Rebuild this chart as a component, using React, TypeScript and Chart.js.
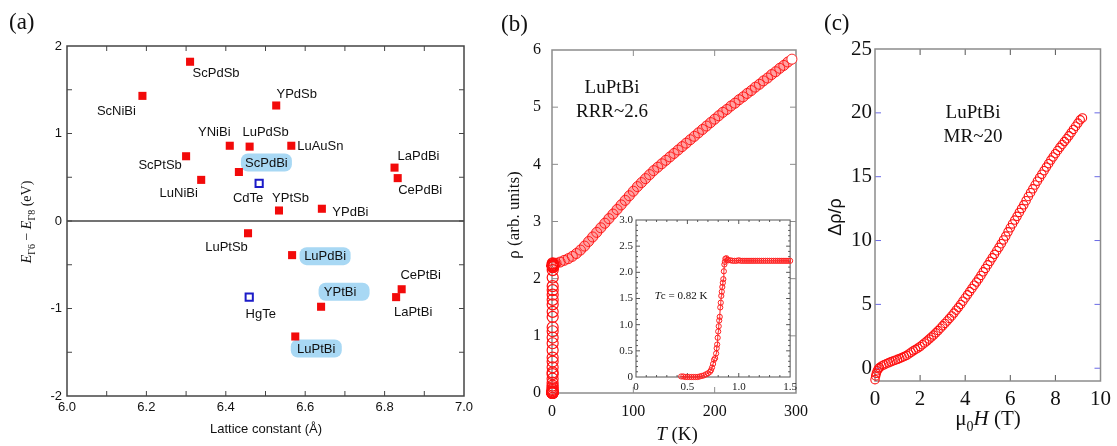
import React, { useEffect, useRef } from 'react';
import { Chart, registerables } from 'chart.js';
Chart.register(...registerables);

const SERIF = '"Liberation Serif", "Times New Roman", serif';
const SANS = '"Liberation Sans", Arial, Helvetica, sans-serif';

// ---------------- Panel (a) data ----------------
const heuslerNames = ['ScPdSb', 'ScNiBi', 'YPdSb', 'YNiBi', 'LuPdSb', 'LuAuSn', 'ScPtSb', 'ScPdBi', 'LuNiBi', 'YPtSb', 'YPdBi', 'LaPdBi', 'CePdBi', 'LuPtSb', 'LuPdBi', 'YPtBi', 'LaPtBi', 'CePtBi', 'LuPtBi'];
const heuslerLattice = [6.31, 6.19, 6.527, 6.41, 6.46, 6.565, 6.30, 6.433, 6.338, 6.534, 6.642, 6.825, 6.833, 6.456, 6.567, 6.64, 6.829, 6.843, 6.575];
const heuslerGap = [1.82, 1.43, 1.32, 0.86, 0.85, 0.86, 0.74, 0.56, 0.47, 0.12, 0.14, 0.61, 0.49, -0.14, -0.39, -0.98, -0.87, -0.78, -1.32];
const binaryNames = ['CdTe', 'HgTe'];
const binaryLattice = [6.484, 6.459];
const binaryGap = [0.43, -0.87];
const highlighted = ['ScPdBi', 'LuPdBi', 'YPtBi', 'LuPtBi'];
const aXTickLabels = [6.0, 6.2, 6.4, 6.6, 6.8, 7.0];
const aYTickLabels = [-2, -1, 0, 1, 2];
const aXTickMarks = [6.1, 6.2, 6.3, 6.4, 6.5, 6.6, 6.7, 6.8, 6.9];
const aYTickMarks = [-1.5, -1, -0.5, 0, 0.5, 1, 1.5];

// label placement (pixel offsets of label centre from marker) – styling only
const labelOffsets: Record<string, [number, number]> = {
  ScPdSb: [26, 11], ScNiBi: [-26, 15], YPdSb: [20.5, -12], YNiBi: [-15.5, -14], LuPdSb: [16, -15],
  LuAuSn: [29, 0], ScPtSb: [-26, 9], ScPdBi: [27.5, -9.5], LuNiBi: [-22.5, 13], YPtSb: [11.5, -13],
  YPdBi: [28.5, 3], LaPdBi: [24, -12], CePdBi: [22.5, 12], LuPtSb: [-21.5, 14], LuPdBi: [33, 1],
  YPtBi: [19, -15], LaPtBi: [17, 15], CePtBi: [19, -14], LuPtBi: [21, 12], CdTe: [-11, 15], HgTe: [11.5, 17],
};
const boxShift: Record<string, number> = { ScPdBi: 0, LuPdBi: 0, YPtBi: 4, LuPtBi: 0 };

// ---------------- Panel (b) data ----------------
const rhoT = [1, 3, 5, 10, 15, 20, 25, 30, 35, 40, 45, 50, 55, 60, 65, 70, 75, 80, 85, 90, 95, 100, 105, 110, 115, 120, 125, 130, 135, 140, 145, 150, 155, 160, 165, 170, 175, 180, 185, 190, 195, 200, 205, 210, 215, 220, 225, 230, 235, 240, 245, 250, 255, 260, 265, 270, 275, 280, 285, 290, 295];
const rhoValues = [2.25, 2.26, 2.27, 2.29, 2.32, 2.35, 2.39, 2.44, 2.50, 2.57, 2.65, 2.73, 2.81, 2.89, 2.97, 3.05, 3.13, 3.21, 3.29, 3.37, 3.45, 3.53, 3.61, 3.68, 3.75, 3.82, 3.89, 3.95, 4.01, 4.07, 4.13, 4.19, 4.25, 4.31, 4.37, 4.43, 4.49, 4.55, 4.61, 4.67, 4.73, 4.79, 4.85, 4.91, 4.96, 5.02, 5.07, 5.13, 5.18, 5.24, 5.29, 5.35, 5.40, 5.46, 5.51, 5.57, 5.62, 5.68, 5.73, 5.79, 5.84];
const bXTickLabels = [0, 100, 200, 300];
const bYTickLabels = [0, 1, 2, 3, 4, 5, 6];
const bXTickMarks = [100, 200];
const bYTickMarks = [1, 2, 3, 4, 5];

// inset: low temperature superconducting transition
const lowT = [0.44, 0.46, 0.48, 0.50, 0.52, 0.54, 0.56, 0.58, 0.60, 0.62, 0.64, 0.66, 0.68, 0.70, 0.72, 0.73, 0.74, 0.75, 0.76, 0.77, 0.78, 0.785, 0.79, 0.795, 0.80, 0.805, 0.81, 0.815, 0.82, 0.825, 0.83, 0.835, 0.84, 0.845, 0.85, 0.855, 0.86, 0.865, 0.87, 0.88, 0.89, 0.90, 0.92, 0.94, 0.96, 0.98, 1.00, 1.02, 1.04, 1.06, 1.08, 1.10, 1.12, 1.14, 1.16, 1.18, 1.20, 1.22, 1.24, 1.26, 1.28, 1.30, 1.32, 1.34, 1.36, 1.38, 1.40, 1.42, 1.44, 1.46, 1.48, 1.50];
const lowRho = [0.01, 0.01, 0.00, 0.00, 0.00, 0.00, 0.00, 0.00, 0.00, 0.01, 0.02, 0.03, 0.05, 0.07, 0.10, 0.13, 0.18, 0.25, 0.33, 0.36, 0.45, 0.55, 0.62, 0.75, 0.87, 0.97, 1.08, 1.15, 1.33, 1.42, 1.55, 1.63, 1.72, 1.80, 1.87, 2.02, 2.15, 2.20, 2.26, 2.27, 2.24, 2.23, 2.23, 2.22, 2.22, 2.22, 2.23, 2.22, 2.22, 2.22, 2.22, 2.22, 2.22, 2.22, 2.22, 2.22, 2.22, 2.22, 2.22, 2.22, 2.22, 2.22, 2.22, 2.22, 2.22, 2.22, 2.22, 2.22, 2.22, 2.22, 2.22, 2.22];
const insetXTickLabels = [0, 0.5, 1, 1.5];
const insetYTickLabels = [0, 0.5, 1, 1.5, 2, 2.5, 3];
const insetXMajor = [0.5, 1];
const insetXMinor = [0.1, 0.2, 0.3, 0.4, 0.6, 0.7, 0.8, 0.9, 1.1, 1.2, 1.3, 1.4];
const insetYMajor = [0.5, 1, 1.5, 2, 2.5];
const insetYMinor = [0.1, 0.2, 0.3, 0.4, 0.6, 0.7, 0.8, 0.9, 1.1, 1.2, 1.3, 1.4, 1.6, 1.7, 1.8, 1.9, 2.1, 2.2, 2.3, 2.4, 2.6, 2.7, 2.8, 2.9];

// ---------------- Panel (c) data ----------------
const fieldH = [0, 0.03, 0.06, 0.1, 0.15, 0.2, 0.3, 0.4, 0.5, 0.6, 0.7, 0.8, 0.9, 1.0, 1.1, 1.2, 1.3, 1.4, 1.5, 1.6, 1.7, 1.8, 1.9, 2.0, 2.1, 2.2, 2.3, 2.4, 2.5, 2.6, 2.7, 2.8, 2.9, 3.0, 3.1, 3.2, 3.3, 3.4, 3.5, 3.6, 3.7, 3.8, 3.9, 4.0, 4.1, 4.2, 4.3, 4.4, 4.5, 4.6, 4.7, 4.8, 4.9, 5.0, 5.1, 5.2, 5.3, 5.4, 5.5, 5.6, 5.7, 5.8, 5.9, 6.0, 6.1, 6.2, 6.3, 6.4, 6.5, 6.6, 6.7, 6.8, 6.9, 7.0, 7.1, 7.2, 7.3, 7.4, 7.5, 7.6, 7.7, 7.8, 7.9, 8.0, 8.1, 8.2, 8.3, 8.4, 8.5, 8.6, 8.7, 8.8, 8.9, 9.0, 9.1, 9.2];
const magnetoR = [-0.9, -0.6, -0.4, -0.2, -0.05, 0.05, 0.18, 0.27, 0.35, 0.42, 0.5, 0.57, 0.63, 0.7, 0.77, 0.85, 0.92, 1.0, 1.12, 1.25, 1.36, 1.47, 1.58, 1.7, 1.84, 1.98, 2.13, 2.28, 2.44, 2.6, 2.77, 2.95, 3.13, 3.32, 3.51, 3.7, 3.9, 4.1, 4.32, 4.55, 4.77, 5.0, 5.25, 5.5, 5.75, 6.0, 6.25, 6.5, 6.75, 7.0, 7.27, 7.55, 7.82, 8.1, 8.37, 8.65, 8.92, 9.2, 9.47, 9.75, 10.05, 10.35, 10.68, 11.0, 11.3, 11.6, 11.9, 12.2, 12.5, 12.8, 13.12, 13.45, 13.75, 14.05, 14.35, 14.65, 14.92, 15.2, 15.47, 15.75, 16.02, 16.3, 16.55, 16.8, 17.05, 17.3, 17.52, 17.75, 17.97, 18.2, 18.45, 18.7, 18.95, 19.2, 19.45, 19.6];
const cXTickLabels = [0, 2, 4, 6, 8, 10];
const cYTickLabels = [0, 5, 10, 15, 20, 25];
const cXTickMarks = [2, 4, 6, 8];
const cYTickMarks = [0, 5, 10, 15, 20];

// ---------------- helpers ----------------
type Run = { t: string; italic?: boolean; sub?: boolean };
function drawRich(ctx: any, runs: Run[], cx: number, cy: number, size: number, family: string, rotate = false, color = '#111') {
  ctx.save();
  ctx.translate(cx, cy);
  if (rotate) ctx.rotate(-Math.PI / 2);
  const fontOf = (r: Run) => `${r.italic ? 'italic ' : ''}${r.sub ? Math.round(size * 0.68) : size}px ${family}`;
  let total = 0;
  for (const r of runs) { ctx.font = fontOf(r); total += ctx.measureText(r.t).width; }
  let x = -total / 2;
  ctx.fillStyle = color;
  ctx.textAlign = 'left';
  ctx.textBaseline = 'alphabetic';
  const base = size * 0.35;
  for (const r of runs) {
    ctx.font = fontOf(r);
    ctx.fillText(r.t, x, base + (r.sub ? size * 0.28 : 0));
    x += ctx.measureText(r.t).width;
  }
  ctx.restore();
}

function drawText(ctx: any, t: string, x: number, y: number, font: string, align = 'center', color = '#111') {
  ctx.save();
  ctx.font = font;
  ctx.fillStyle = color;
  ctx.textAlign = align;
  ctx.textBaseline = 'middle';
  ctx.fillText(t, x, y);
  ctx.restore();
}

function drawFrame(chart: any, o: any) {
  const { ctx, chartArea: a, scales } = chart;
  const sx = scales.x, sy = scales.y;
  ctx.save();
  ctx.lineWidth = o.tickWidth ?? 1;
  const seg = (x1: number, y1: number, x2: number, y2: number, c: string) => {
    ctx.strokeStyle = c; ctx.beginPath(); ctx.moveTo(x1, y1); ctx.lineTo(x2, y2); ctx.stroke();
  };
  const xs: [number[], number][] = [[o.xMajor, o.len], [o.xMinor || [], o.minorLen || 0]];
  for (const [vals, len] of xs) for (const v of vals) {
    const p = sx.getPixelForValue(v);
    seg(p, a.bottom, p, a.bottom - len, o.xTickColor);
    seg(p, a.top, p, a.top + len, o.xTickColor);
  }
  const ys: [number[], number][] = [[o.yMajor, o.len], [o.yMinor || [], o.minorLen || 0]];
  for (const [vals, len] of ys) for (const v of vals) {
    const p = sy.getPixelForValue(v);
    seg(a.left, p, a.left + len, p, o.yTickColor);
    seg(a.right, p, a.right - len, p, o.yTickColor);
  }
  ctx.strokeStyle = o.color;
  ctx.lineWidth = o.width;
  ctx.strokeRect(a.left, a.top, a.right - a.left, a.bottom - a.top);
  ctx.restore();
}

function fixedTicks(values: number[]) {
  return (scale: any) => { scale.ticks = values.map((v) => ({ value: v })); };
}

function ChartCanvas({ make, left, top, width, height }: any) {
  const ref = useRef<HTMLCanvasElement>(null);
  useEffect(() => {
    const chart = new Chart(ref.current as HTMLCanvasElement, make());
    return () => chart.destroy();
  }, []);
  return <canvas ref={ref} width={width} height={height} style={{ position: 'absolute', left, top, width, height }} />;
}

// ---------------- Panel (a) ----------------
function makeA(): any {
  const plugin = {
    id: 'panelA',
    beforeDatasetsDraw(chart: any) {
      const { ctx, chartArea: a, scales } = chart;
      drawFrame(chart, { color: '#444', width: 1.5, len: 5, xMajor: aXTickMarks, yMajor: aYTickMarks, xTickColor: '#444', yTickColor: '#444' });
      const y0 = scales.y.getPixelForValue(0);
      ctx.save(); ctx.strokeStyle = '#444'; ctx.lineWidth = 1.5;
      ctx.beginPath(); ctx.moveTo(a.left, y0); ctx.lineTo(a.right, y0); ctx.stroke(); ctx.restore();
      ctx.save(); ctx.fillStyle = '#a8d8f4';
      heuslerNames.forEach((n, i) => {
        if (!highlighted.includes(n)) return;
        const [dx, dy] = labelOffsets[n];
        const cx = scales.x.getPixelForValue(heuslerLattice[i]) + dx + boxShift[n];
        const cy = scales.y.getPixelForValue(heuslerGap[i]) + dy;
        ctx.beginPath();
        (ctx as any).roundRect(cx - 25.5, cy - 9, 51, 18, 7);
        ctx.fill();
      });
      ctx.restore();
    },
    afterDatasetsDraw(chart: any) {
      const { ctx, scales } = chart;
      const put = (names: string[], xs: number[], ys: number[]) => names.forEach((n, i) => {
        const [dx, dy] = labelOffsets[n];
        drawText(ctx, n, scales.x.getPixelForValue(xs[i]) + dx, scales.y.getPixelForValue(ys[i]) + dy + 0.5, `13px ${SANS}`, 'center', '#111');
      });
      put(heuslerNames, heuslerLattice, heuslerGap);
      put(binaryNames, binaryLattice, binaryGap);
    },
    afterDraw(chart: any) {
      const { ctx } = chart;
      drawText(ctx, '(a)', 9, 23, `23px ${SERIF}`, 'left', '#111');
      drawText(ctx, 'Lattice constant (Å)', 266, 429, `13px ${SANS}`, 'center', '#111');
      drawRich(ctx, [{ t: 'E', italic: true }, { t: 'Γ6', sub: true }, { t: ' − ' }, { t: 'E', italic: true }, { t: 'Γ8', sub: true }, { t: ' (eV)' }], 26, 222, 14, SERIF, true, '#111');
    },
  };
  return {
    type: 'scatter',
    data: {
      datasets: [
        { data: heuslerLattice.map((x, i) => ({ x, y: heuslerGap[i] })), pointStyle: 'rect', pointRadius: 5.7, pointBackgroundColor: '#f20a0a', pointBorderColor: '#f20a0a', pointBorderWidth: 0, clip: false },
        { data: binaryLattice.map((x, i) => ({ x, y: binaryGap[i] })), pointStyle: 'rect', pointRadius: 5.1, pointBackgroundColor: '#ffffff', pointBorderColor: '#1c1cc8', pointBorderWidth: 2, clip: false },
      ],
    },
    options: {
      responsive: false, animation: false, events: [],
      layout: { padding: { top: 46, right: 16, left: 0, bottom: 0 } },
      plugins: { legend: { display: false }, tooltip: { enabled: false } },
      scales: {
        x: {
          type: 'linear', min: 6, max: 7, afterBuildTicks: fixedTicks(aXTickLabels), afterFit: (s: any) => { s.height = 50; },
          grid: { display: false, drawTicks: false }, border: { display: false },
          ticks: { padding: 4, color: '#111', font: { family: SANS, size: 13 }, callback: (v: any) => Number(v).toFixed(1), autoSkip: false, maxRotation: 0 },
        },
        y: {
          type: 'linear', min: -2, max: 2, afterBuildTicks: fixedTicks(aYTickLabels), afterFit: (s: any) => { s.width = 67; },
          grid: { display: false, drawTicks: false }, border: { display: false },
          ticks: { padding: 5, color: '#111', font: { family: SANS, size: 13 } },
        },
      },
    },
    plugins: [plugin],
  };
}

// ---------------- Panel (b) ----------------
function makeB(): any {
  const plugin = {
    id: 'panelB',
    beforeDatasetsDraw(chart: any) {
      drawFrame(chart, { color: '#8c8c8c', width: 1.5, len: 6, xMajor: bXTickMarks, yMajor: bYTickMarks, xTickColor: '#8c8c8c', yTickColor: '#8c8c8c' });
    },
    afterDraw(chart: any) {
      const { ctx } = chart;
      drawText(ctx, '(b)', 21, 25, `23px ${SERIF}`, 'left', '#111');
      drawText(ctx, 'LuPtBi', 132, 88, `19px ${SERIF}`, 'center', '#111');
      drawText(ctx, 'RRR~2.6', 132, 112, `19px ${SERIF}`, 'center', '#111');
      drawRich(ctx, [{ t: 'ρ (arb. units)' }], 33, 215, 17, SERIF, true, '#111');
      drawRich(ctx, [{ t: 'T', italic: true }, { t: ' (K)' }], 197, 433, 19, SERIF, false, '#111');
    },
  };
  const last = rhoT.length - 1;
  const pts = rhoT.map((x, i) => ({ x, y: rhoValues[i] }));
  return {
    type: 'scatter',
    data: {
      datasets: [
        { data: pts, showLine: true, borderColor: 'rgba(255,70,70,0.5)', borderWidth: 10, pointRadius: 0, clip: false, order: 3 },
        {
          data: pts, pointRadius: 5, pointBorderWidth: 1, order: 2,
          pointBorderColor: 'rgba(255,10,10,0.85)', pointBackgroundColor: (c: any) => (c.dataIndex === last ? '#ffffff' : 'rgba(255,255,255,0)'), clip: false,
        },
        { data: lowT.map((x, i) => ({ x, y: lowRho[i] })), pointRadius: 5.5, pointBorderWidth: 1.2, pointBorderColor: '#ff1010', pointBackgroundColor: 'rgba(255,255,255,0)', clip: false, order: 1 },
      ],
    },
    options: {
      responsive: false, animation: false, events: [],
      layout: { padding: { top: 50, right: 24, left: 0, bottom: 0 } },
      plugins: { legend: { display: false }, tooltip: { enabled: false } },
      scales: {
        x: {
          type: 'linear', min: 0, max: 300, afterBuildTicks: fixedTicks(bXTickLabels), afterFit: (s: any) => { s.height = 53; },
          grid: { display: false, drawTicks: false }, border: { display: false },
          ticks: { padding: 9, color: '#111', font: { family: SERIF, size: 16 }, autoSkip: false, maxRotation: 0 },
        },
        y: {
          type: 'linear', min: 0, max: 6, afterBuildTicks: fixedTicks(bYTickLabels), afterFit: (s: any) => { s.width = 72; },
          grid: { display: false, drawTicks: false }, border: { display: false },
          ticks: { padding: 11, color: '#111', font: { family: SERIF, size: 16 } },
        },
      },
    },
    plugins: [plugin],
  };
}

function makeInset(): any {
  const plugin = {
    id: 'inset',
    beforeDraw(chart: any) {
      const { ctx, chartArea: a } = chart;
      ctx.save(); ctx.fillStyle = '#ffffff'; ctx.fillRect(a.left, a.top, a.right - a.left, a.bottom - a.top); ctx.restore();
    },
    beforeDatasetsDraw(chart: any) {
      drawFrame(chart, { color: '#555', width: 1, len: 4, minorLen: 2, xMajor: insetXMajor, xMinor: insetXMinor, yMajor: insetYMajor, yMinor: insetYMinor, xTickColor: '#555', yTickColor: '#555' });
    },
    afterDraw(chart: any) {
      const { ctx } = chart;
      drawRich(ctx, [{ t: 'T', italic: true }, { t: 'c = 0.82 K' }], 80, 95, 11, SERIF, false, '#111');
    },
  };
  return {
    type: 'scatter',
    data: {
      datasets: [
        { data: lowT.map((x, i) => ({ x, y: lowRho[i] })), showLine: true, borderColor: '#ff2020', borderWidth: 1, pointRadius: 2.6, pointBorderWidth: 1, pointBorderColor: '#ff2020', pointBackgroundColor: 'rgba(255,255,255,0)', clip: false },
      ],
    },
    options: {
      responsive: false, animation: false, events: [],
      layout: { padding: { top: 20, right: 10, left: 0, bottom: 0 } },
      plugins: { legend: { display: false }, tooltip: { enabled: false } },
      scales: {
        x: {
          type: 'linear', min: 0, max: 1.5, afterBuildTicks: fixedTicks(insetXTickLabels), afterFit: (s: any) => { s.height = 23; },
          grid: { display: false, drawTicks: false }, border: { display: false },
          ticks: { padding: 4, color: '#222', font: { family: SERIF, size: 11 }, autoSkip: false, maxRotation: 0 },
        },
        y: {
          type: 'linear', min: 0, max: 3, afterBuildTicks: fixedTicks(insetYTickLabels), afterFit: (s: any) => { s.width = 35; },
          grid: { display: false, drawTicks: false }, border: { display: false },
          ticks: { padding: 3, color: '#222', font: { family: SERIF, size: 11 } },
        },
      },
    },
    plugins: [plugin],
  };
}

// ---------------- Panel (c) ----------------
function makeC(): any {
  const plugin = {
    id: 'panelC',
    beforeDatasetsDraw(chart: any) {
      drawFrame(chart, { color: '#8c8c8c', width: 1.5, len: 6, xMajor: cXTickMarks, yMajor: cYTickMarks, xTickColor: '#555', yTickColor: '#6a6ae6' });
    },
    afterDraw(chart: any) {
      const { ctx } = chart;
      drawText(ctx, '(c)', 4, 24, `23px ${SERIF}`, 'left', '#111');
      drawText(ctx, 'LuPtBi', 153, 113, `19px ${SERIF}`, 'center', '#111');
      drawText(ctx, 'MR~20', 153, 137, `19px ${SERIF}`, 'center', '#111');
      drawRich(ctx, [{ t: 'Δρ/ρ' }], 15, 217, 18, SANS, true, '#111');
      drawRich(ctx, [{ t: 'μ' }, { t: '0', sub: true }, { t: 'H', italic: true }, { t: ' (T)' }], 168, 418, 21, SERIF, false, '#111');
    },
  };
  return {
    type: 'scatter',
    data: {
      datasets: [
        { data: fieldH.map((x, i) => ({ x, y: magnetoR[i] })), pointRadius: 4.2, pointBorderWidth: 1.1, pointBorderColor: '#ff1010', pointBackgroundColor: 'rgba(255,255,255,0)', clip: false },
      ],
    },
    options: {
      responsive: false, animation: false, events: [],
      layout: { padding: { top: 49, right: 15, left: 0, bottom: 0 } },
      plugins: { legend: { display: false }, tooltip: { enabled: false } },
      scales: {
        x: {
          type: 'linear', min: 0, max: 10, afterBuildTicks: fixedTicks(cXTickLabels), afterFit: (s: any) => { s.height = 65; },
          grid: { display: false, drawTicks: false }, border: { display: false },
          ticks: { padding: 6, color: '#111', font: { family: SERIF, size: 21 }, autoSkip: false, maxRotation: 0 },
        },
        y: {
          type: 'linear', min: -1, max: 25, afterBuildTicks: fixedTicks(cYTickLabels), afterFit: (s: any) => { s.width = 55; },
          grid: { display: false, drawTicks: false }, border: { display: false },
          ticks: { padding: 3, color: '#111', font: { family: SERIF, size: 21 } },
        },
      },
    },
    plugins: [plugin],
  };
}

export default function App() {
  useEffect(() => { document.body.style.margin = '0'; }, []);
  return (
    <div style={{ position: 'fixed', left: 0, top: 0, width: 1117, height: 446, background: '#ffffff', overflow: 'hidden' }}>
      <ChartCanvas make={makeA} left={0} top={0} width={480} height={446} />
      <ChartCanvas make={makeB} left={480} top={0} width={340} height={446} />
      <ChartCanvas make={makeInset} left={601} top={200} width={200} height={200} />
      <ChartCanvas make={makeC} left={820} top={0} width={297} height={446} />
    </div>
  );
}
